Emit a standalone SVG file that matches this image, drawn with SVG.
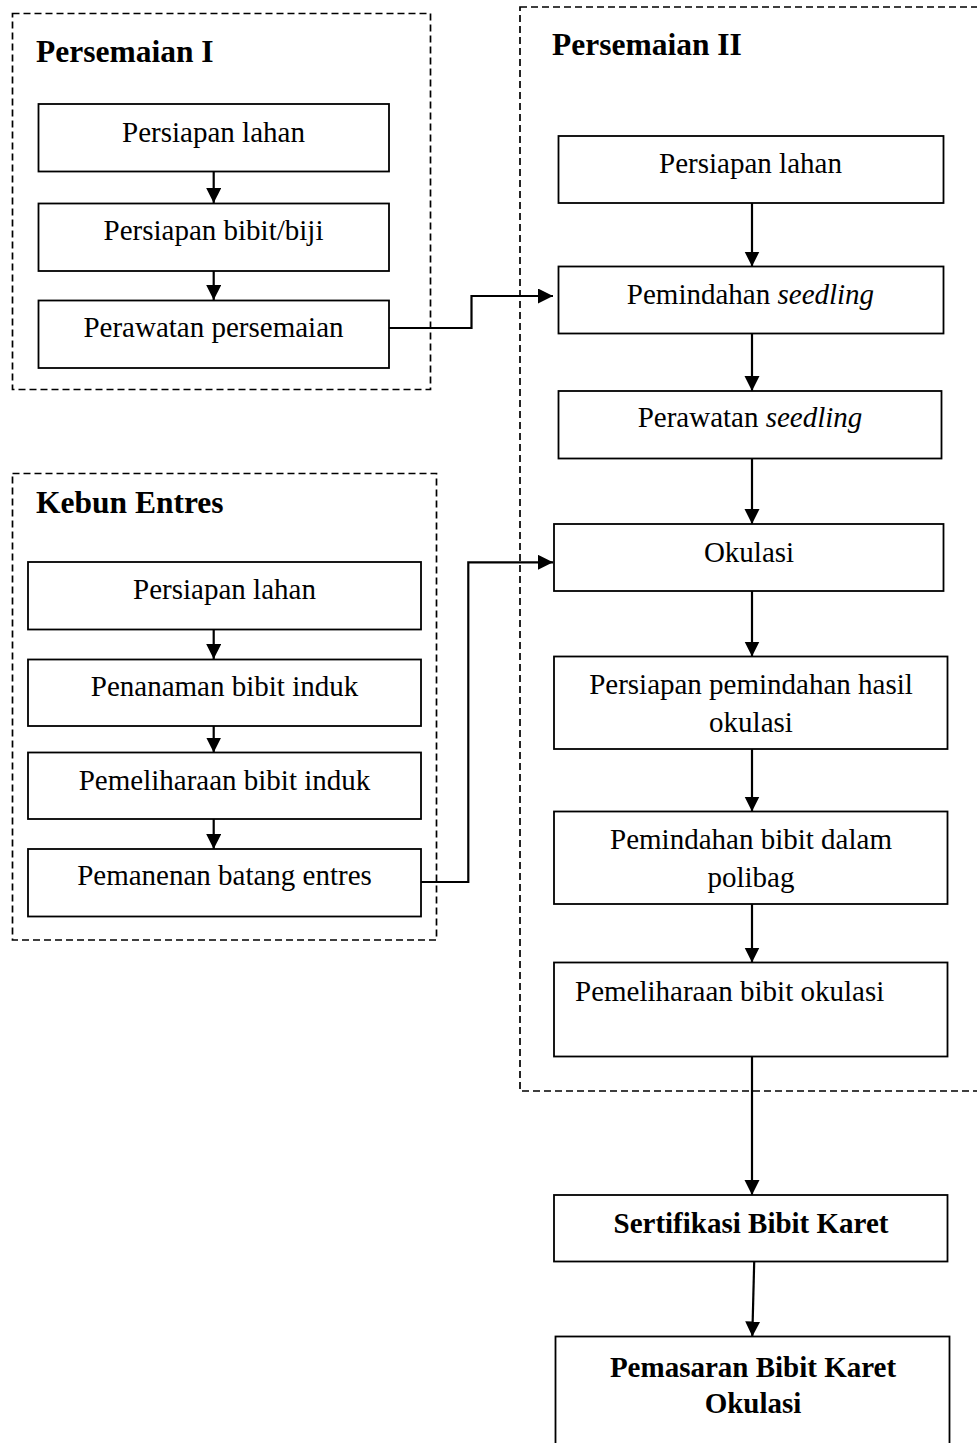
<svg xmlns="http://www.w3.org/2000/svg" width="977" height="1443" viewBox="0 0 977 1443">
<style>
.bg{fill:#fff}
.grp{fill:none;stroke:#000;stroke-width:1.7;stroke-dasharray:7 4}
.box{fill:#fff;stroke:#000;stroke-width:1.8}
.t{font-family:"Liberation Serif","Times New Roman",serif;font-size:29px;fill:#000;text-anchor:middle}
.b{font-weight:bold}
.title{font-family:"Liberation Serif","Times New Roman",serif;font-size:31.5px;font-weight:bold;fill:#000}
.c{fill:none;stroke:#000;stroke-width:2.2}
</style>
<defs>
<marker id="ah" markerUnits="userSpaceOnUse" markerWidth="17" markerHeight="17" refX="15" refY="7.5" orient="auto">
<path d="M0,0 L15,7.5 L0,15 z" fill="#000"/>
</marker>
</defs>
<rect class="bg" x="0" y="0" width="977" height="1443"/>

<g id="group-persemaian-1">
<rect class="grp" x="12.5" y="13.5" width="418" height="376"/>
<text class="title" x="36" y="62">Persemaian I</text>
</g>
<g id="group-persemaian-2">
<rect class="grp" x="520" y="7" width="480" height="1084"/>
<text class="title" x="552" y="55">Persemaian II</text>
</g>
<g id="group-kebun-entres">
<rect class="grp" x="12.5" y="473.5" width="424" height="466.5"/>
<text class="title" x="36" y="513">Kebun Entres</text>
</g>

<g id="connectors">
<line class="c" x1="213.7" y1="172" x2="213.7" y2="203" marker-end="url(#ah)"/>
<line class="c" x1="213.7" y1="271" x2="213.7" y2="300" marker-end="url(#ah)"/>
<path class="c" d="M389,328 H471.5 V296 H553" marker-end="url(#ah)"/>
<line class="c" x1="213.7" y1="629" x2="213.7" y2="659" marker-end="url(#ah)"/>
<line class="c" x1="213.7" y1="723" x2="213.7" y2="752.5" marker-end="url(#ah)"/>
<line class="c" x1="213.7" y1="816" x2="213.7" y2="849" marker-end="url(#ah)"/>
<path class="c" d="M421,882 H468.3 V562.3 H553" marker-end="url(#ah)"/>
<line class="c" x1="752" y1="203" x2="752" y2="266.5" marker-end="url(#ah)"/>
<line class="c" x1="752" y1="330" x2="752" y2="391" marker-end="url(#ah)"/>
<line class="c" x1="752" y1="458" x2="752" y2="524" marker-end="url(#ah)"/>
<line class="c" x1="752" y1="591" x2="752" y2="656.5" marker-end="url(#ah)"/>
<line class="c" x1="752" y1="749" x2="752" y2="811.5" marker-end="url(#ah)"/>
<line class="c" x1="752" y1="904" x2="752" y2="962.5" marker-end="url(#ah)"/>
<line class="c" x1="752" y1="1057" x2="752" y2="1195" marker-end="url(#ah)"/>
<line class="c" x1="754.3" y1="1258" x2="752.3" y2="1336.5" marker-end="url(#ah)"/>
</g>

<g id="p1-persiapan-lahan">
<rect class="box" x="38.5" y="104" width="350.5" height="67.5"/>
<text class="t" x="213.5" y="142">Persiapan lahan</text>
</g>
<g id="p1-persiapan-bibit">
<rect class="box" x="38.5" y="203.5" width="350.5" height="67.5"/>
<text class="t" x="213.5" y="240">Persiapan bibit/biji</text>
</g>
<g id="p1-perawatan-persemaian">
<rect class="box" x="38.5" y="300.5" width="350.5" height="67.5"/>
<text class="t" x="213.5" y="337">Perawatan persemaian</text>
</g>

<g id="ke-persiapan-lahan">
<rect class="box" x="28" y="562" width="393" height="67.5"/>
<text class="t" x="224.5" y="598.5">Persiapan lahan</text>
</g>
<g id="ke-penanaman">
<rect class="box" x="28" y="659.5" width="393" height="66.5"/>
<text class="t" x="224.5" y="696">Penanaman bibit induk</text>
</g>
<g id="ke-pemeliharaan">
<rect class="box" x="28" y="752.5" width="393" height="66.5"/>
<text class="t" x="224.5" y="789.5">Pemeliharaan bibit induk</text>
</g>
<g id="ke-pemanenan">
<rect class="box" x="28" y="849" width="393" height="67.5"/>
<text class="t" x="224.5" y="885">Pemanenan batang entres</text>
</g>

<g id="p2-persiapan-lahan">
<rect class="box" x="558.5" y="136" width="385" height="67"/>
<text class="t" x="750.5" y="172.5">Persiapan lahan</text>
</g>
<g id="p2-pemindahan-seedling">
<rect class="box" x="558.5" y="266.5" width="385" height="67"/>
<text class="t" x="750.5" y="303.5">Pemindahan <tspan font-style="italic">seedling</tspan></text>
</g>
<g id="p2-perawatan-seedling">
<rect class="box" x="558.5" y="391" width="383" height="67.5"/>
<text class="t" x="750" y="427">Perawatan <tspan font-style="italic">seedling</tspan></text>
</g>
<g id="p2-okulasi">
<rect class="box" x="554" y="524" width="389.5" height="67"/>
<text class="t" x="749" y="561.5">Okulasi</text>
</g>
<g id="p2-persiapan-pemindahan">
<rect class="box" x="554" y="656.5" width="393.5" height="92.5"/>
<text class="t" x="751" y="693.5">Persiapan pemindahan hasil</text>
<text class="t" x="751" y="731.5">okulasi</text>
</g>
<g id="p2-pemindahan-polibag">
<rect class="box" x="554" y="811.5" width="393.5" height="92.5"/>
<text class="t" x="751" y="848.5">Pemindahan bibit dalam</text>
<text class="t" x="751" y="886.5">polibag</text>
</g>
<g id="p2-pemeliharaan-okulasi">
<rect class="box" x="554" y="962.5" width="393.5" height="94"/>
<text class="t" x="575" y="1000.5" style="text-anchor:start">Pemeliharaan bibit okulasi</text>
</g>

<g id="sertifikasi">
<rect class="box" x="554" y="1195" width="393.5" height="66.5"/>
<text class="t b" x="751" y="1233">Sertifikasi Bibit Karet</text>
</g>
<g id="pemasaran">
<rect class="box" x="555.5" y="1336.5" width="394" height="120"/>
<text class="t b" x="753" y="1376.5">Pemasaran Bibit Karet</text>
<text class="t b" x="753" y="1412.5">Okulasi</text>
</g>
</svg>
